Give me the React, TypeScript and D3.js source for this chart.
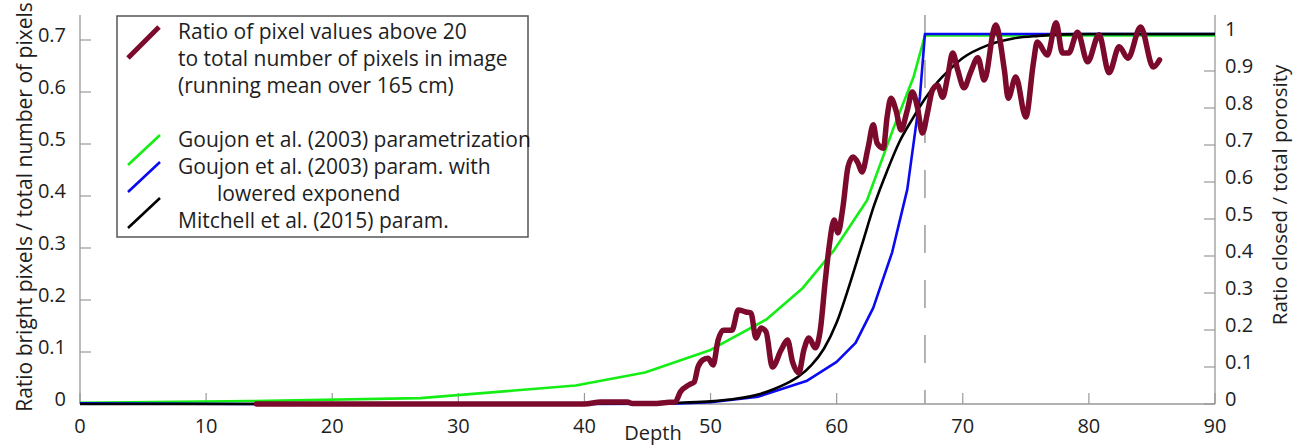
import React from "react";
import * as d3 from "d3";

// ---------- data ----------
const xTicks = [0, 10, 20, 30, 40, 50, 60, 70, 80, 90];
const leftTicks = [0, 0.1, 0.2, 0.3, 0.4, 0.5, 0.6, 0.7];
const rightTicks = [0, 0.1, 0.2, 0.3, 0.4, 0.5, 0.6, 0.7, 0.8, 0.9, 1];

// measured ratio (left axis), running mean
const maroonDepth = [14, 20, 30, 40, 41.3, 43.4, 43.8, 45.5, 46.5, 47.2, 47.6, 48.3, 48.7, 49.0, 49.4, 49.8, 50.2, 50.6, 51.0, 51.7, 52.2, 52.8, 53.2, 53.6, 54.0, 54.4, 54.9, 55.6, 56.1, 56.5, 57.0, 57.4, 57.8, 58.3, 58.7, 59.1, 59.4, 59.8, 60.1, 60.5, 60.9, 61.3, 61.7, 62.0, 62.5, 62.9, 63.2, 63.7, 64.0, 64.3, 64.7, 65.1, 65.6, 66.0, 66.4, 66.8, 67.2, 67.6, 68.0, 68.4, 68.8, 69.2, 69.6, 70.1, 70.6, 71.2, 71.7, 72.6, 73.3, 73.6, 74.2, 75.0, 75.6, 75.9, 76.7, 77.4, 77.9, 78.4, 79.1, 79.9, 80.8, 81.6, 82.4, 83.1, 84.1, 85.1, 85.6];
const maroonRatio = [0, 0, 0, 0, 0.004, 0.004, 0.001, 0.001, 0.003, 0.004, 0.023, 0.037, 0.042, 0.071, 0.085, 0.088, 0.075, 0.123, 0.142, 0.142, 0.181, 0.177, 0.175, 0.127, 0.146, 0.139, 0.071, 0.104, 0.123, 0.081, 0.060, 0.104, 0.127, 0.108, 0.142, 0.238, 0.302, 0.354, 0.329, 0.379, 0.456, 0.475, 0.463, 0.446, 0.494, 0.537, 0.502, 0.492, 0.552, 0.588, 0.565, 0.527, 0.565, 0.600, 0.571, 0.521, 0.560, 0.604, 0.613, 0.590, 0.629, 0.675, 0.642, 0.608, 0.637, 0.666, 0.623, 0.729, 0.642, 0.588, 0.629, 0.552, 0.656, 0.696, 0.671, 0.733, 0.675, 0.675, 0.715, 0.658, 0.710, 0.637, 0.687, 0.665, 0.725, 0.648, 0.662];

// Goujon et al. (2003) parametrization (right axis)
const greenDepth = [0, 13.5, 27, 39.3, 44.8, 50, 54.4, 57.3, 59.8, 62.4, 64.5, 66.1, 67, 90];
const greenRatio = [0.003, 0.008, 0.016, 0.05, 0.085, 0.146, 0.228, 0.313, 0.416, 0.55, 0.745, 0.884, 0.996, 0.996];

// Goujon param. with lowered exponent (right axis)
const blueDepth = [0, 13, 40, 47, 50, 53.8, 57.6, 60, 61.5, 62.9, 64.4, 65.6, 66.6, 67, 90];
const blueRatio = [0.002, 0.0, 0.0, 0.001, 0.005, 0.02, 0.062, 0.114, 0.165, 0.26, 0.41, 0.58, 0.83, 1.0, 1.0];

// Mitchell et al. (2015) param. (right axis)
const blackDepth = [0, 40, 45, 48, 50, 52, 54, 55, 56, 57, 58, 59, 60, 61, 62, 63, 64, 65, 66, 67, 68, 69, 70, 72, 74, 76, 78, 80, 90];
const blackRatio = [0, 0.0005, 0.002, 0.004, 0.007, 0.014, 0.028, 0.04, 0.055, 0.075, 0.105, 0.15, 0.22, 0.32, 0.43, 0.54, 0.63, 0.71, 0.77, 0.825, 0.87, 0.905, 0.935, 0.97, 0.988, 0.995, 0.999, 1.0, 1.0];

const closeOffDepth = 67;

const legendMaroon = ["Ratio of pixel values above 20", "to total number of pixels in image", "(running mean over 165 cm)"];
const legendGreen = "Goujon et al. (2003) parametrization";
const legendBlue = ["Goujon et al. (2003) param. with", "lowered exponend"];
const legendBlack = "Mitchell et al. (2015) param.";

// ---------- layout ----------
const W = 1306;
const H = 448;
const left = 80;
const right = 1215;
const top = 15;
const bottom = 404;
const FONT = "'Open Sans', sans-serif";
const AXIS = "#999";
const TXT = "#1e1e1e";
const MAROON = "#7b0a2c";
const GREEN = "#14ee14";
const BLUE = "#0a0af0";

export default function App() {
  const x = d3.scaleLinear().domain([0, 90]).range([left, right]);
  const yL = d3.scaleLinear().domain([0, 0.7]).range([bottom, 40]);
  const yR = d3.scaleLinear().domain([0, 1]).range([bottom, 34]);

  const pts = (xs: number[], ys: number[]) => xs.map((d, i) => [d, ys[i]] as [number, number]);

  const lineL = d3.line<[number, number]>().x((d) => x(d[0])).y((d) => yL(d[1])).curve(d3.curveMonotoneX);
  const lineRLin = d3.line<[number, number]>().x((d) => x(d[0])).y((d) => yR(d[1]));
  const lineRSmooth = d3.line<[number, number]>().x((d) => x(d[0])).y((d) => yR(d[1])).curve(d3.curveMonotoneX);

  const tickLen = 11;

  return (
    <svg width={W} height={H} style={{ position: "absolute", left: 0, top: 0, background: "#fff" }} fontFamily={FONT}>
      {/* close-off depth dashed line */}
      <line x1={x(closeOffDepth)} x2={x(closeOffDepth)} y1={top} y2={bottom} stroke="#9a9a9a" strokeWidth={1.5} strokeDasharray="28 27" strokeDashoffset={10} />

      {/* axes */}
      <line x1={left} x2={left} y1={top} y2={bottom} stroke={AXIS} strokeWidth={1.3} />
      <line x1={right} x2={right} y1={top} y2={bottom} stroke={AXIS} strokeWidth={1.3} />
      <line x1={left} x2={right} y1={bottom} y2={bottom} stroke={AXIS} strokeWidth={1.3} />

      {xTicks.map((t) => (
        <g key={"x" + t}>
          <line x1={x(t)} x2={x(t)} y1={bottom} y2={bottom - tickLen} stroke={AXIS} strokeWidth={1.2} />
          <text x={x(t)} y={433} textAnchor="middle" fontSize={20} fill={TXT}>{t}</text>
        </g>
      ))}
      {leftTicks.map((t) => (
        <g key={"l" + t}>
          <line x1={left} x2={left + tickLen} y1={yL(t)} y2={yL(t)} stroke={AXIS} strokeWidth={1.2} />
          <text x={66} y={yL(t) + 2} textAnchor="end" fontSize={20} fill={TXT}>{t === 0 ? "0" : t.toFixed(1)}</text>
        </g>
      ))}
      {rightTicks.map((t) => (
        <g key={"r" + t}>
          <line x1={right} x2={right - tickLen} y1={yR(t)} y2={yR(t)} stroke={AXIS} strokeWidth={1.2} />
          <text x={1225} y={yR(t) + 2} textAnchor="start" fontSize={20} fill={TXT}>{t === 0 || t === 1 ? String(t) : t.toFixed(1)}</text>
        </g>
      ))}

      {/* axis titles */}
      <text x={653} y={440} textAnchor="middle" fontSize={20} fill={TXT}>Depth</text>
      <text transform={`translate(32, 207) rotate(-90)`} textAnchor="middle" fontSize={21} fill={TXT}>
        Ratio bright pixels / total number of pixels
      </text>
      <text transform={`translate(1287, 195) rotate(-90)`} textAnchor="middle" fontSize={20.5} fill={TXT}>
        Ratio closed / total porosity
      </text>

      {/* model curves */}
      <path d={lineRLin(pts(greenDepth, greenRatio)) ?? ""} fill="none" stroke={GREEN} strokeWidth={2.6} strokeLinejoin="round" />
      <path d={lineRLin(pts(blueDepth, blueRatio)) ?? ""} fill="none" stroke={BLUE} strokeWidth={2.6} strokeLinejoin="round" />
      <path d={lineRSmooth(pts(blackDepth, blackRatio)) ?? ""} fill="none" stroke="#000" strokeWidth={2.6} />

      {/* measured ratio */}
      <path d={lineL(pts(maroonDepth, maroonRatio)) ?? ""} fill="none" stroke={MAROON} strokeWidth={5.5} strokeLinejoin="round" strokeLinecap="round" />

      {/* legend */}
      <g>
        <rect x={117} y={16} width={411} height={221} fill="#fff" stroke="#555" strokeWidth={1.5} />
        <line x1={128} y1={58} x2={159} y2={27} stroke={MAROON} strokeWidth={5} />
        <line x1={128} y1={165} x2={160} y2={135} stroke={GREEN} strokeWidth={2.6} />
        <line x1={128} y1={192} x2={160} y2={162} stroke={BLUE} strokeWidth={2.6} />
        <line x1={128} y1={228} x2={160} y2={198} stroke="#000" strokeWidth={2.6} />
        <g fontSize={21} fill={TXT}>
          <text x={178} y={39}>{legendMaroon[0]}</text>
          <text x={178} y={66}>{legendMaroon[1]}</text>
          <text x={178} y={93}>{legendMaroon[2]}</text>
          <text x={178} y={147}>{legendGreen}</text>
          <text x={178} y={174}>{legendBlue[0]}</text>
          <text x={217} y={201}>{legendBlue[1]}</text>
          <text x={178} y={228}>{legendBlack}</text>
        </g>
      </g>
    </svg>
  );
}
